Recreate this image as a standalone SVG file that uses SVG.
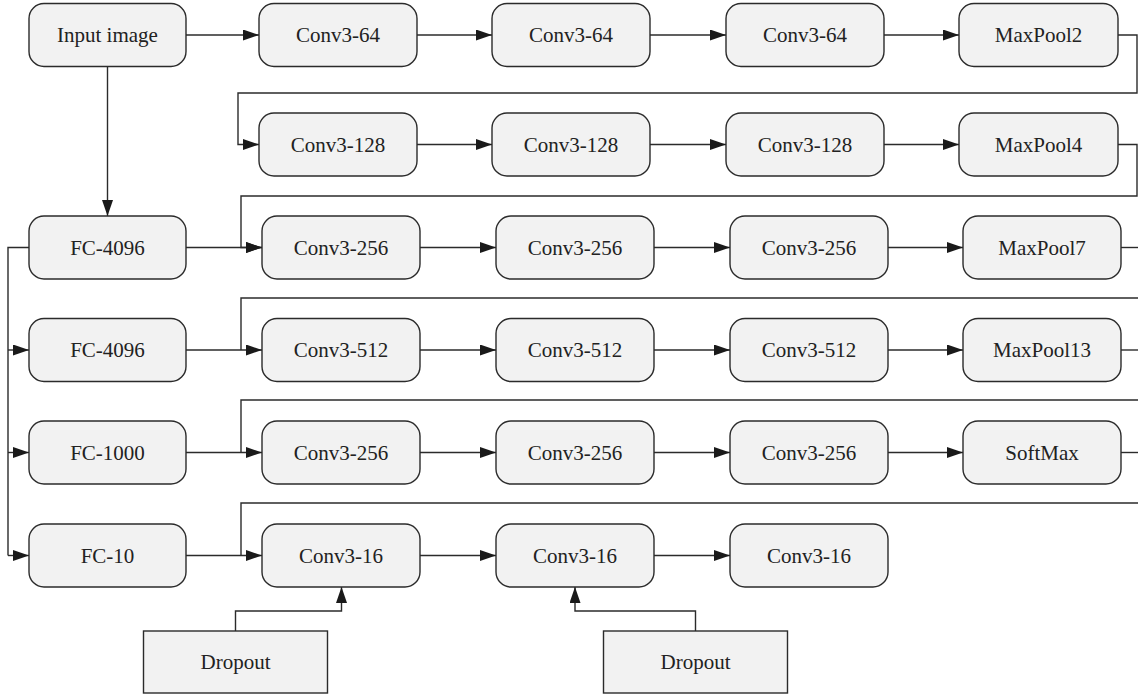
<svg xmlns="http://www.w3.org/2000/svg" width="1138" height="695" viewBox="0 0 1138 695">
<style>
.n{fill:#f2f2f2;stroke:#2b2b2b;stroke-width:1.4}
.t{font-family:"Liberation Serif","Times New Roman",serif;font-size:21px;fill:#222;text-anchor:middle;dominant-baseline:central}
.c{fill:none;stroke:#2b2b2b;stroke-width:1.4}
</style>
<defs>
<marker id="a" markerUnits="userSpaceOnUse" markerWidth="18" markerHeight="12" refX="16" refY="5.5" orient="auto">
<path d="M0,0 L16,5.5 L0,11 z" fill="#1a1a1a"/>
</marker>
</defs>
<rect width="1138" height="695" fill="#fff"/>
<g id="connectors">
<path class="c" d="M186,35 H259" marker-end="url(#a)"/>
<path class="c" d="M417,35 H492" marker-end="url(#a)"/>
<path class="c" d="M650,35 H726" marker-end="url(#a)"/>
<path class="c" d="M884,35 H959" marker-end="url(#a)"/>
<path class="c" d="M1118,35 H1137 V93 H238 V144.5 H259" marker-end="url(#a)"/>
<path class="c" d="M417,144.5 H492" marker-end="url(#a)"/>
<path class="c" d="M650,144.5 H726" marker-end="url(#a)"/>
<path class="c" d="M884,144.5 H959" marker-end="url(#a)"/>
<path class="c" d="M1118,144.5 H1137 V196 H241 V247.5 H262" marker-end="url(#a)"/>
<path class="c" d="M107.5,66 V216" marker-end="url(#a)"/>
<path class="c" d="M29,247.5 H8 V555.5"/>
<path class="c" d="M8,350 H29" marker-end="url(#a)"/>
<path class="c" d="M8,452.5 H29" marker-end="url(#a)"/>
<path class="c" d="M8,555.5 H29" marker-end="url(#a)"/>
<path class="c" d="M186,247.5 H262" marker-end="url(#a)"/>
<path class="c" d="M186,350 H262" marker-end="url(#a)"/>
<path class="c" d="M186,452.5 H262" marker-end="url(#a)"/>
<path class="c" d="M186,555.5 H262" marker-end="url(#a)"/>
<path class="c" d="M420,247.5 H496" marker-end="url(#a)"/>
<path class="c" d="M654,247.5 H730" marker-end="url(#a)"/>
<path class="c" d="M888,247.5 H963" marker-end="url(#a)"/>
<path class="c" d="M1121,247.5 H1140"/>
<path class="c" d="M1140,298 H241 V350"/>
<path class="c" d="M420,350 H496" marker-end="url(#a)"/>
<path class="c" d="M654,350 H730" marker-end="url(#a)"/>
<path class="c" d="M888,350 H963" marker-end="url(#a)"/>
<path class="c" d="M1121,350 H1140"/>
<path class="c" d="M1140,400 H241 V452.5"/>
<path class="c" d="M420,452.5 H496" marker-end="url(#a)"/>
<path class="c" d="M654,452.5 H730" marker-end="url(#a)"/>
<path class="c" d="M888,452.5 H963" marker-end="url(#a)"/>
<path class="c" d="M1121,452.5 H1140"/>
<path class="c" d="M1140,503 H241 V555.5"/>
<path class="c" d="M420,555.5 H496" marker-end="url(#a)"/>
<path class="c" d="M654,555.5 H730" marker-end="url(#a)"/>
<path class="c" d="M235.5,631 V611 H341.5 V587" marker-end="url(#a)"/>
<path class="c" d="M695.5,631 V611 H575 V587" marker-end="url(#a)"/>
</g>
<g id="input"><rect class="n" x="29" y="3.5" width="157" height="63" rx="15"/><text class="t" x="107.5" y="35">Input image</text></g>
<g id="c64a"><rect class="n" x="259" y="3.5" width="158" height="63" rx="15"/><text class="t" x="338" y="35">Conv3-64</text></g>
<g id="c64b"><rect class="n" x="492" y="3.5" width="158" height="63" rx="15"/><text class="t" x="571" y="35">Conv3-64</text></g>
<g id="c64c"><rect class="n" x="726" y="3.5" width="158" height="63" rx="15"/><text class="t" x="805" y="35">Conv3-64</text></g>
<g id="mp2"><rect class="n" x="959" y="3.5" width="159" height="63" rx="15"/><text class="t" x="1038.5" y="35">MaxPool2</text></g>
<g id="c128a"><rect class="n" x="259" y="113" width="158" height="63" rx="15"/><text class="t" x="338" y="144.5">Conv3-128</text></g>
<g id="c128b"><rect class="n" x="492" y="113" width="158" height="63" rx="15"/><text class="t" x="571" y="144.5">Conv3-128</text></g>
<g id="c128c"><rect class="n" x="726" y="113" width="158" height="63" rx="15"/><text class="t" x="805" y="144.5">Conv3-128</text></g>
<g id="mp4"><rect class="n" x="959" y="113" width="159" height="63" rx="15"/><text class="t" x="1038.5" y="144.5">MaxPool4</text></g>
<g id="fc1"><rect class="n" x="29" y="216" width="157" height="63" rx="15"/><text class="t" x="107.5" y="247.5">FC-4096</text></g>
<g id="fc2"><rect class="n" x="29" y="318.5" width="157" height="63" rx="15"/><text class="t" x="107.5" y="350">FC-4096</text></g>
<g id="fc3"><rect class="n" x="29" y="421" width="157" height="63" rx="15"/><text class="t" x="107.5" y="452.5">FC-1000</text></g>
<g id="fc4"><rect class="n" x="29" y="524" width="157" height="63" rx="15"/><text class="t" x="107.5" y="555.5">FC-10</text></g>
<g id="c256a"><rect class="n" x="262" y="216" width="158" height="63" rx="15"/><text class="t" x="341" y="247.5">Conv3-256</text></g>
<g id="c256b"><rect class="n" x="496" y="216" width="158" height="63" rx="15"/><text class="t" x="575" y="247.5">Conv3-256</text></g>
<g id="c256c"><rect class="n" x="730" y="216" width="158" height="63" rx="15"/><text class="t" x="809" y="247.5">Conv3-256</text></g>
<g id="mp7"><rect class="n" x="963" y="216" width="158" height="63" rx="15"/><text class="t" x="1042" y="247.5">MaxPool7</text></g>
<g id="c512a"><rect class="n" x="262" y="318.5" width="158" height="63" rx="15"/><text class="t" x="341" y="350">Conv3-512</text></g>
<g id="c512b"><rect class="n" x="496" y="318.5" width="158" height="63" rx="15"/><text class="t" x="575" y="350">Conv3-512</text></g>
<g id="c512c"><rect class="n" x="730" y="318.5" width="158" height="63" rx="15"/><text class="t" x="809" y="350">Conv3-512</text></g>
<g id="mp13"><rect class="n" x="963" y="318.5" width="158" height="63" rx="15"/><text class="t" x="1042" y="350">MaxPool13</text></g>
<g id="c256d"><rect class="n" x="262" y="421" width="158" height="63" rx="15"/><text class="t" x="341" y="452.5">Conv3-256</text></g>
<g id="c256e"><rect class="n" x="496" y="421" width="158" height="63" rx="15"/><text class="t" x="575" y="452.5">Conv3-256</text></g>
<g id="c256f"><rect class="n" x="730" y="421" width="158" height="63" rx="15"/><text class="t" x="809" y="452.5">Conv3-256</text></g>
<g id="softmax"><rect class="n" x="963" y="421" width="158" height="63" rx="15"/><text class="t" x="1042" y="452.5">SoftMax</text></g>
<g id="c16a"><rect class="n" x="262" y="524" width="158" height="63" rx="15"/><text class="t" x="341" y="555.5">Conv3-16</text></g>
<g id="c16b"><rect class="n" x="496" y="524" width="158" height="63" rx="15"/><text class="t" x="575" y="555.5">Conv3-16</text></g>
<g id="c16c"><rect class="n" x="730" y="524" width="158" height="63" rx="15"/><text class="t" x="809" y="555.5">Conv3-16</text></g>
<g id="drop1"><rect class="n" x="143.5" y="631" width="184" height="62"/><text class="t" x="235.5" y="662">Dropout</text></g>
<g id="drop2"><rect class="n" x="603.5" y="631" width="184" height="62"/><text class="t" x="695.5" y="662">Dropout</text></g>
</svg>
